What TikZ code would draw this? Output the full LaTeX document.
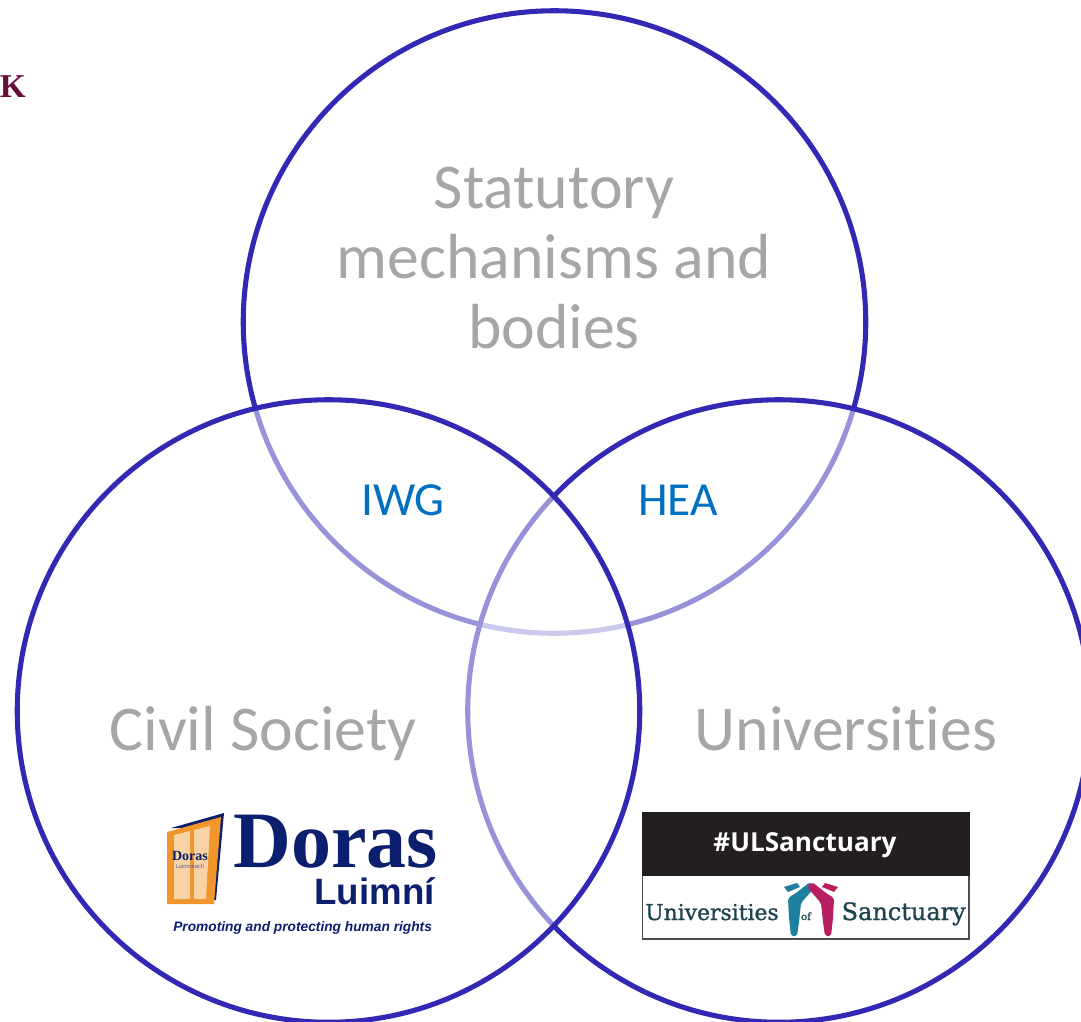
\documentclass[tikz,border=0pt]{standalone}
\usepackage{fontspec}
\setmainfont{Carlito}[Ligatures=NoCommon]
\newfontfamily\serifb{Liberation Serif}
\newfontfamily\sansb{Liberation Sans}
\newfontfamily\opensans{Open Sans}
\newfontfamily\slabf{DejaVu Serif}[FakeBold=1.2]
\definecolor{ring}{HTML}{3228B4}
\definecolor{grey}{HTML}{A6A6A6}
\definecolor{acc}{HTML}{0070C0}
\definecolor{navy}{HTML}{0B1F6E}
\definecolor{orangew}{HTML}{F0962A}
\definecolor{pane}{HTML}{F9D3A5}
\definecolor{maroon}{HTML}{660F3C}
\definecolor{slab}{HTML}{1E4450}
\definecolor{teal}{HTML}{1F7F9E}
\definecolor{magen}{HTML}{B81E62}
\definecolor{logoblack}{HTML}{231F20}
\tikzset{
  venn/.style={circle,minimum size=622.5*0.75pt,inner sep=0pt,draw=ring,line width=3.8pt,fill=white,fill opacity=.5,draw opacity=1},
  big/.style={text=grey,font=\fontsize{47.8}{53}\selectfont,align=center},
  small/.style={text=acc,font=\fontsize{35.6}{40}\selectfont,anchor=base},
  tx/.style={anchor=base,inner sep=0pt},
  gown/.style={rounded corners=1.5pt}
}
\begin{document}
\begin{tikzpicture}[x=0.75pt,y=-0.75pt]
\useasboundingbox (0,0) rectangle (1081,1021);
\fill[white] (0,0) rectangle (1081,1021);
\node[tx,anchor=base east,text=maroon,font=\serifb\bfseries\fontsize{25}{25}\selectfont] (ck) at (26,97) {CK};
\node[venn] (top) at (554.5,322) {};
\node[venn] (right) at (779,711) {};
\node[venn] (left) at (328.5,711) {};
\node[big] (stat) at (554,258) {Statutory\\[-0.5pt]mechanisms and\\[-0.5pt]bodies};
\node[big,anchor=base] (civil) at (263,750) {Civil Society};
\node[big,anchor=base] (univ) at (846,750) {Universities};
\node[small] (iwg) at (403,515) {IWG};
\node[small] (hea) at (678,515) {HEA};
% Doras logo
\fill[navy] (171,828) -- (224,813) -- (216,900) -- (212,900) -- (212,828) -- cycle;
\fill[orangew] (167,832) -- (221,817) -- (214,904) -- (167,904) -- cycle;
\fill[pane] (174,835) -- (190,831) -- (190,899) -- (174,899) -- cycle;
\fill[pane] (194,830) -- (210,826) -- (206,899) -- (194,899) -- cycle;
\node[tx,text=navy,font=\serifb\bfseries\fontsize{10.5}{11}\selectfont] (dsmall) at (190,860) {Doras};
\node[tx,text=navy!70,font=\sansb\fontsize{4.4}{5}\selectfont] (lsmall) at (190,868) {Luimneach};
\node[tx,anchor=base west,text=navy,font=\serifb\bfseries\fontsize{60}{60}\selectfont] (doras) at (233,867) {Doras};
\node[tx,anchor=base east,text=navy,font=\sansb\bfseries\fontsize{27.5}{27.5}\selectfont] (luimni) at (435,904) {Luimní};
\node[tx,anchor=base west,text=navy,font=\sansb\bfseries\itshape\fontsize{10.3}{10.3}\selectfont] (tag) at (173,931) {Promoting and protecting human rights};
% UL Sanctuary logo
\draw[draw=black!70,line width=1pt,fill=white] (642.5,812.5) rectangle (969,939);
\fill[logoblack] (642,812) rectangle (969.5,876);
\node[tx,text=white,font=\opensans\bfseries\fontsize{19.6}{20}\selectfont] (hash) at (805,851) {\#ULSanctuary};
\node[tx,anchor=base west,text=slab,font=\slabf\fontsize{16.4}{17}\selectfont] (uni) at (645,920) {Universities};
\node[tx,text=slab,font=\slabf\fontsize{7.5}{8}\selectfont] (of) at (806,920) {of};
\node[tx,anchor=base east,text=slab,font=\slabf\fontsize{18}{18}\selectfont] (sanc) at (966,920) {Sanctuary};
\fill[teal,gown] (788,898) -- (796,893) -- (810,882) -- (815,887) -- (801,903) -- (799,922) -- (797,936) -- (791,936) -- (789,918) -- cycle;
\fill[teal] (784,887) -- (797,883) -- (800,887) -- (788,892) -- cycle;
\fill[magen,gown] (834,898) -- (826,893) -- (812,882) -- (807,887) -- (821,903) -- (823,922) -- (825,936) -- (831,936) -- (833,918) -- cycle;
\fill[magen] (838,887) -- (825,883) -- (822,887) -- (834,892) -- cycle;
\end{tikzpicture}
\end{document}
